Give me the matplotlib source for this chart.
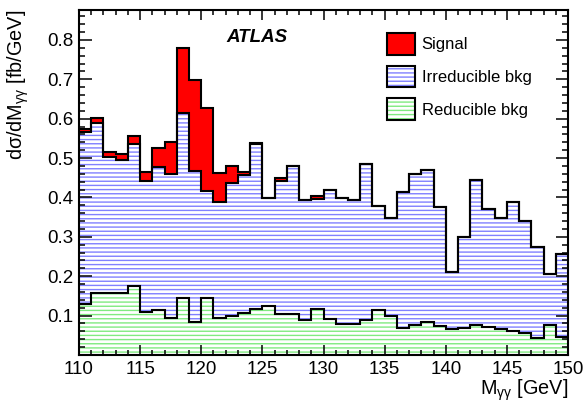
import numpy as np
import matplotlib
matplotlib.use("Agg")
import matplotlib.pyplot as plt
import matplotlib.patches as mpatches
from matplotlib.ticker import MultipleLocator, FixedLocator

# Diphoton invariant mass bins (1 GeV wide)
mass_edges = np.arange(110, 151, 1)

# Stacked contributions per bin [fb/GeV]
reducible = [0.130, 0.157, 0.157, 0.157, 0.175, 0.108, 0.113, 0.093, 0.144, 0.084,
             0.144, 0.093, 0.100, 0.106, 0.118, 0.124, 0.104, 0.104, 0.089, 0.118,
             0.091, 0.078, 0.078, 0.089, 0.113, 0.099, 0.068, 0.076, 0.083, 0.074,
             0.065, 0.069, 0.076, 0.072, 0.067, 0.062, 0.057, 0.042, 0.077, 0.046]
irreducible = [0.435, 0.433, 0.345, 0.338, 0.360, 0.333, 0.365, 0.367, 0.471, 0.384,
               0.273, 0.295, 0.336, 0.350, 0.419, 0.274, 0.339, 0.376, 0.304, 0.279,
               0.328, 0.320, 0.316, 0.396, 0.265, 0.250, 0.347, 0.384, 0.387, 0.303,
               0.145, 0.230, 0.368, 0.298, 0.282, 0.326, 0.284, 0.232, 0.129, 0.210]
signal = [0.008, 0.013, 0.014, 0.016, 0.021, 0.024, 0.047, 0.080, 0.164, 0.230,
          0.209, 0.075, 0.044, 0.009, 0.002, 0.001, 0.006, 0.001, 0.001, 0.007,
          0.000, 0.000, 0.000, 0.000, 0.000, 0.000, 0.000, 0.000, 0.000, 0.000,
          0.000, 0.000, 0.000, 0.000, 0.000, 0.000, 0.000, 0.000, 0.000, 0.000]

series_labels = ["Signal", "Irreducible bkg", "Reducible bkg"]
x_ticks = [110, 115, 120, 125, 130, 135, 140, 145, 150]
y_ticks = [0.1, 0.2, 0.3, 0.4, 0.5, 0.6, 0.7, 0.8]

plt.rcParams["font.family"] = ["Liberation Sans", "DejaVu Sans"]
plt.rcParams["mathtext.fontset"] = "custom"
plt.rcParams["mathtext.rm"] = "Liberation Sans"
plt.rcParams["mathtext.it"] = "Liberation Sans"
plt.rcParams["mathtext.bf"] = "Liberation Sans:bold"
plt.rcParams["mathtext.default"] = "regular"
plt.rcParams["hatch.linewidth"] = 1.0

BLUE = "#8080ff"
GREEN = "#80ea80"
RED = "#ff0000"

red_ = np.asarray(reducible)
irr_ = np.asarray(irreducible)
sig_ = np.asarray(signal)
bkg_top = red_ + irr_
tot_top = bkg_top + sig_

fig = plt.figure(figsize=(5.85, 4.04), dpi=100)
ax = fig.add_axes([79 / 585, 1 - 355 / 404, (568 - 79) / 585, (355 - 10) / 404])

# filled, hatched layers
ax.stairs(red_, mass_edges, baseline=0, fill=True, facecolor="white",
          edgecolor=GREEN, hatch="----", linewidth=0)
ax.stairs(bkg_top, mass_edges, baseline=red_, fill=True, facecolor="white",
          edgecolor=BLUE, hatch="----", linewidth=0)
ax.stairs(tot_top, mass_edges, baseline=bkg_top, fill=True, color=RED, linewidth=0)

# black outlines of each stacked layer
for top in (red_, bkg_top, tot_top):
    ax.stairs(top, mass_edges, baseline=None, color="black", linewidth=1.5)

ax.set_xlim(110, 150)
ax.set_ylim(0, 0.876)

ax.xaxis.set_major_locator(FixedLocator(x_ticks))
ax.xaxis.set_minor_locator(MultipleLocator(1))
ax.yaxis.set_major_locator(FixedLocator(y_ticks))
ax.yaxis.set_minor_locator(MultipleLocator(0.02))
ax.set_xticklabels([str(v) for v in x_ticks])
ax.set_yticklabels([f"{v:.1f}" for v in y_ticks])

ax.tick_params(which="both", direction="in", top=True, right=True, width=1.1,
               labelsize=13.5, pad=4)
ax.tick_params(axis="y", which="major", length=9)
ax.tick_params(axis="y", which="minor", length=4.5)
ax.tick_params(axis="x", which="major", length=7.5)
ax.tick_params(axis="x", which="minor", length=3.8)
for sp in ax.spines.values():
    sp.set_linewidth(1.5)

ax.set_ylabel(r"d$\sigma$/dM$_{\gamma\gamma}$ [fb/GeV]", fontsize=14.3, loc="top")
ax.yaxis.set_label_coords(-0.099, 1.0)
ax.set_xlabel(r"M$_{\gamma\gamma}$ [GeV]", fontsize=14.3, loc="right")
ax.xaxis.set_label_coords(1.0, -0.065)

ax.text(0.364, 0.920, "ATLAS", transform=ax.transAxes, fontsize=13.5,
        fontweight="bold", fontstyle="italic", ha="center", va="center")

outline = mpatches.Patch(facecolor="none", edgecolor="black", linewidth=1.5)
h_sig = mpatches.Patch(facecolor=RED, edgecolor="black", linewidth=1.5)
h_irr = mpatches.Patch(facecolor="white", edgecolor=BLUE, hatch="----", linewidth=0)
h_red = mpatches.Patch(facecolor="white", edgecolor=GREEN, hatch="----", linewidth=0)
ax.legend(handles=[h_sig, (h_irr, outline), (h_red, outline)], labels=series_labels,
          loc="upper left", bbox_to_anchor=(0.630, 0.933), frameon=False,
          borderpad=0, borderaxespad=0, fontsize=12, handlelength=1.68,
          handleheight=1.62, labelspacing=0.66, handletextpad=0.4)

fig.savefig("out.png", dpi=100)
